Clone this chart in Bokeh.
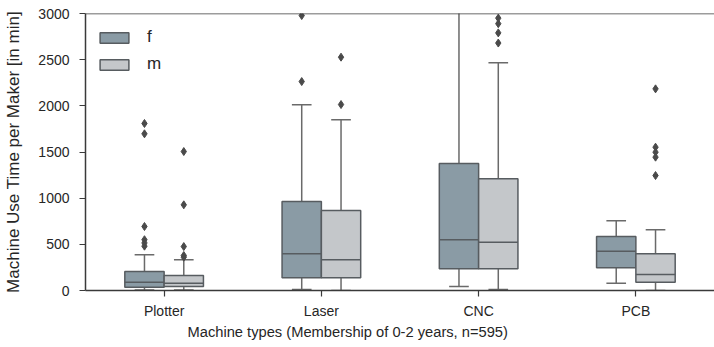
from bokeh.plotting import figure
from bokeh.models import ColumnDataSource, FactorRange, Span, Legend, LegendItem, FixedTicker, Title
from bokeh.transform import dodge
from bokeh.embed import file_html
from bokeh.resources import INLINE

cats = ["Plotter", "Laser", "CNC", "PCB"]

f_q1 = [36, 138, 235, 246]
f_med = [90, 397, 549, 426]
f_q3 = [206, 964, 1375, 585]
f_lo = [5, 11, 43, 79]
f_hi = [387, 2011, 3300, 755]

m_q1 = [43, 138, 235, 90]
m_med = [79, 332, 523, 173]
m_q3 = [162, 866, 1209, 397]
m_lo = [5, 0, 10, 0]
m_hi = [332, 1849, 2466, 657]

f_out_cat = ["Plotter"] * 6 + ["Laser"] * 2
f_out_val = [1809, 1697, 693, 550, 515, 480, 2263, 2978]
m_out_cat = ["Plotter"] * 5 + ["Laser"] * 2 + ["CNC"] * 4 + ["PCB"] * 5
m_out_val = [1505, 928, 476, 379, 361, 2527, 2014, 2680, 2790, 2890, 2950, 2184, 1552, 1498, 1444, 1245]

F_COLOR = "#8a9ba5"
M_COLOR = "#c4c7ca"
EDGE = "#575c60"
WHISK = "#6a6a6a"
AXC = "#3a3a3a"
FONT = "Liberation Sans"

p = figure(width=714, height=345, x_range=FactorRange(*cats, range_padding=0), y_range=(0, 3000),
           output_backend="svg", toolbar_location=None,
           min_border_left=85, min_border_right=0, min_border_top=13, min_border_bottom=55)
p.outline_line_color = None
p.xgrid.visible = False
p.ygrid.visible = False

BW = 0.25
groups = [
    ("f", -0.125, F_COLOR, f_q1, f_med, f_q3, f_lo, f_hi, f_out_cat, f_out_val),
    ("m", 0.125, M_COLOR, m_q1, m_med, m_q3, m_lo, m_hi, m_out_cat, m_out_val),
]
legend_items = []
for name, off, col, q1, med, q3, lo, hi, oc, ov in groups:
    src = ColumnDataSource(dict(cat=cats, q1=q1, med=med, q3=q3, lo=lo, hi=hi))
    xc = dodge("cat", off, range=p.x_range)
    p.segment(x0=xc, x1=xc, y0="q3", y1="hi", source=src, line_color=WHISK, line_width=1.5)
    p.segment(x0=xc, x1=xc, y0="lo", y1="q1", source=src, line_color=WHISK, line_width=1.5)
    p.segment(x0=dodge("cat", off - BW / 4, range=p.x_range), x1=dodge("cat", off + BW / 4, range=p.x_range),
              y0="hi", y1="hi", source=src, line_color=WHISK, line_width=1.5)
    p.segment(x0=dodge("cat", off - BW / 4, range=p.x_range), x1=dodge("cat", off + BW / 4, range=p.x_range),
              y0="lo", y1="lo", source=src, line_color=WHISK, line_width=1.5)
    r = p.vbar(x=xc, width=BW, top="q3", bottom="q1", source=src, fill_color=col,
               line_color=EDGE, line_width=1.5)
    p.segment(x0=dodge("cat", off - BW / 2, range=p.x_range), x1=dodge("cat", off + BW / 2, range=p.x_range),
              y0="med", y1="med", source=src, line_color=EDGE, line_width=1.5)
    osrc = ColumnDataSource(dict(cat=oc, val=ov))
    p.scatter(x=dodge("cat", off, range=p.x_range), y="val", source=osrc, marker="diamond", size=8,
              fill_color="#4a4a4a", line_color="#4a4a4a")
    legend_items.append(LegendItem(label=name, renderers=[r]))

legend = Legend(items=legend_items, location=(11, 216), margin=0, padding=10, spacing=7,
                glyph_width=36, glyph_height=13, label_height=14, label_standoff=15,
                label_text_font=FONT, label_text_font_size="17px", label_text_color="#262626",
                border_line_color=None, background_fill_alpha=0)
p.add_layout(legend)

p.add_layout(Span(location=3000, dimension="width", line_color=AXC, line_width=1.5))

p.yaxis.ticker = FixedTicker(ticks=[0, 500, 1000, 1500, 2000, 2500, 3000])
p.yaxis.minor_tick_line_color = None
for ax in (p.xaxis[0], p.yaxis[0]):
    ax.axis_line_color = AXC
    ax.axis_line_width = 1.5
    ax.major_tick_line_color = AXC
    ax.major_tick_line_width = 1.2
    ax.major_tick_out = 6
    ax.major_tick_in = 0
    ax.major_label_text_font = FONT
    ax.major_label_text_font_size = "14px"
    ax.major_label_text_color = "#262626"
    ax.axis_label_text_font = FONT
    ax.axis_label_text_font_style = "normal"
    ax.axis_label_text_color = "#262626"

p.yaxis.major_label_standoff = 10
p.yaxis.axis_label = "Machine Use Time per Maker [in min]"
p.yaxis.axis_label_text_font_size = "17px"
p.yaxis.axis_label_standoff = 12
p.xaxis.major_label_standoff = 6

xlab = Title(text="Machine types (Membership of 0-2 years, n=595)", align="left", offset=102,
             text_font=FONT, text_font_size="14.7px", text_font_style="normal", text_color="#262626",
             standoff=0)
p.add_layout(xlab, "below")

open("out.html", "w").write(file_html(p, INLINE))
